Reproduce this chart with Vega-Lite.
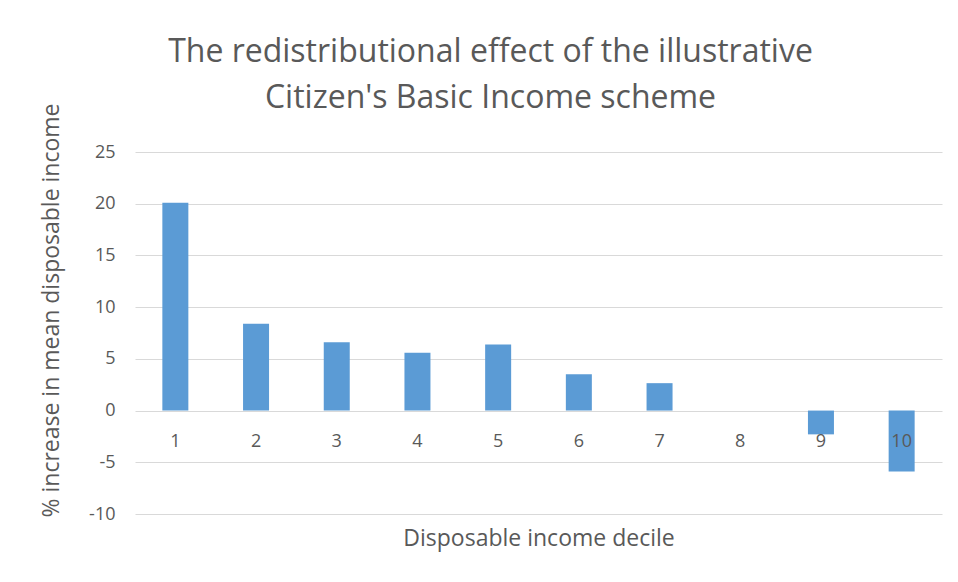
{
  "$schema": "https://vega.github.io/schema/vega-lite/v6.json",
  "autosize": "none",
  "padding": {"left": 135, "top": 152, "right": 16, "bottom": 68},
  "width": 807,
  "height": 362,
  "background": "white",
  "title": {
    "text": ["The redistributional effect of the illustrative", "Citizen's Basic Income scheme"],
    "font": "Open Sans",
    "fontSize": 32,
    "fontWeight": "normal",
    "color": "#595959",
    "anchor": "middle",
    "dx": -48,
    "dy": 36,
    "offset": 24,
    "lineHeight": 46
  },
  "data": {
    "values": [
      {"decile": "1", "value": 20.1},
      {"decile": "2", "value": 8.4},
      {"decile": "3", "value": 6.6},
      {"decile": "4", "value": 5.6},
      {"decile": "5", "value": 6.4},
      {"decile": "6", "value": 3.5},
      {"decile": "7", "value": 2.65},
      {"decile": "8", "value": 0},
      {"decile": "9", "value": -2.3},
      {"decile": "10", "value": -5.9}
    ]
  },
  "mark": {"type": "bar", "color": "#5B9BD5", "size": 26},
  "encoding": {
    "x": {
      "field": "decile",
      "type": "ordinal",
      "sort": null,
      "scale": {"paddingInner": 0, "paddingOuter": 0},
      "axis": {
        "title": "Disposable income decile",
        "orient": "bottom",
        "offset": -103.5,
        "zindex": 1,
        "domain": false,
        "ticks": false,
        "labelAngle": 0,
        "labelOverlap": false,
        "labelPadding": 22,
        "labelFont": "Open Sans",
        "labelFontSize": 18,
        "labelColor": "#595959",
        "titleFont": "Open Sans",
        "titleFontSize": 23,
        "titleFontWeight": "normal",
        "titleColor": "#595959",
        "titleY": 117,
        "titleBaseline": "top"
      }
    },
    "y": {
      "field": "value",
      "type": "quantitative",
      "scale": {"domain": [-10, 25], "nice": false},
      "axis": {
        "title": "% increase in mean disposable income",
        "values": [-10, -5, 0, 5, 10, 15, 20, 25],
        "labelExpr": "datum.value + ''",
        "zindex": 0,
        "domain": false,
        "ticks": false,
        "grid": true,
        "gridColor": "#D9D9D9",
        "gridWidth": 1,
        "labelPadding": 20,
        "labelFont": "Open Sans",
        "labelFontSize": 18,
        "labelColor": "#595959",
        "titleFont": "Open Sans",
        "titleFontSize": 23,
        "titleFontWeight": "normal",
        "titleColor": "#595959",
        "titleAngle": -90,
        "titleX": -84,
        "titleY": 158,
        "titleAlign": "center",
        "titleBaseline": "middle"
      }
    }
  },
  "config": {"view": {"stroke": null}}
}
